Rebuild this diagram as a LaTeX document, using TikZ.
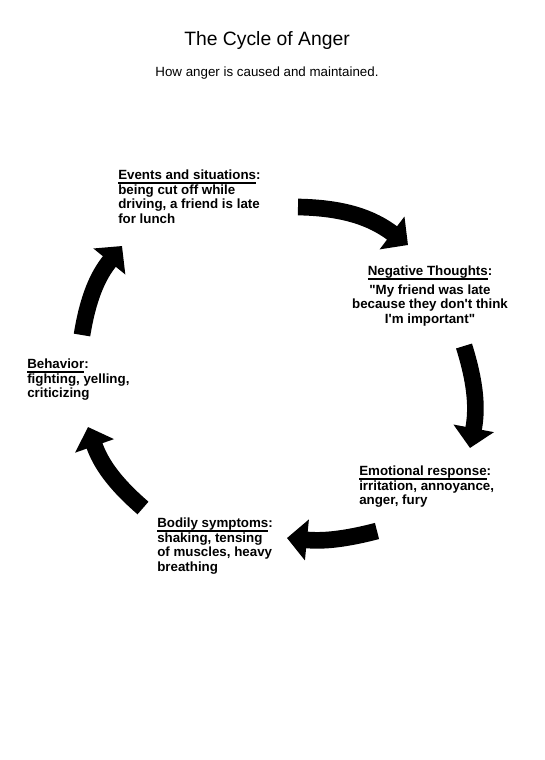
\documentclass[tikz,border=0pt]{standalone}
\usepackage{fontspec}
\setmainfont{Liberation Sans}
\usetikzlibrary{arrows.meta, positioning}
\newsavebox{\hdbox}
\newcommand{\hd}[1]{\sbox{\hdbox}{#1}\rlap{\rule[-2.8pt]{\wd\hdbox}{1pt}}\usebox{\hdbox}:}
\tikzset{
  stage/.style={anchor=north west, inner sep=0pt, align=left, font=\fontsize{10}{10.8}\selectfont\bfseries},
  cyc/.style={-{Triangle[width=30pt, length=15pt]}, line width=12.5pt, black},
}

\begin{document}
\begin{tikzpicture}[x=0.75pt, y=0.75pt,
  caption/.style={inner sep=0pt, font=\fontsize{10}{12}\selectfont}]
\useasboundingbox (0,0) rectangle (545,-760);
\node[inner sep=0pt, anchor=base, font=\fontsize{14.5}{17}\selectfont] (title) at (267,-45) {The Cycle of Anger};
\node[caption, below=13pt of title] (sub) {How anger is caused and maintained.};
% the five stages
\node[stage] (events) at (118,-170) {\hd{Events and situations}\\ being cut off while\\ driving, a friend is late\\ for lunch};
\node[stage, anchor=north, align=center] (thoughts) at (430,-266) {\hd{Negative Thoughts}\\[3pt] \textquotedbl My friend was late\\ because they don\textquotesingle t think\\ I\textquotesingle m important\textquotedbl};
\node[stage] (emotion) at (359,-466) {\hd{Emotional response}\\ irritation, annoyance,\\ anger, fury};
\node[stage] (body) at (157,-518) {\hd{Bodily symptoms}\\ shaking, tensing\\ of muscles, heavy\\ breathing};
\node[stage] (behavior) at (27,-359) {\hd{Behavior}\\ fighting, yelling,\\ criticizing};
% arrows of the cycle
\coordinate (t1) at (298,-207);
\coordinate (t2) at (408,-245);
\coordinate (r1) at (464,-346);
\coordinate (r2) at (470,-448);
\coordinate (b1) at (377,-531);
\coordinate (b2) at (287,-538);
\coordinate (l1) at (143,-508);
\coordinate (l2) at (88,-427);
\coordinate (u1) at (82,-335);
\coordinate (u2) at (122,-246);
\draw[cyc] (t1) to[bend left=18] (t2);
\draw[cyc] (r1) to[bend left=14] (r2);
\draw[cyc] (b1) to[bend left=10] (b2);
\draw[cyc] (l1) to[bend left=15] (l2);
\draw[cyc] (u1) to[bend left=15] (u2);
\end{tikzpicture}
\end{document}
